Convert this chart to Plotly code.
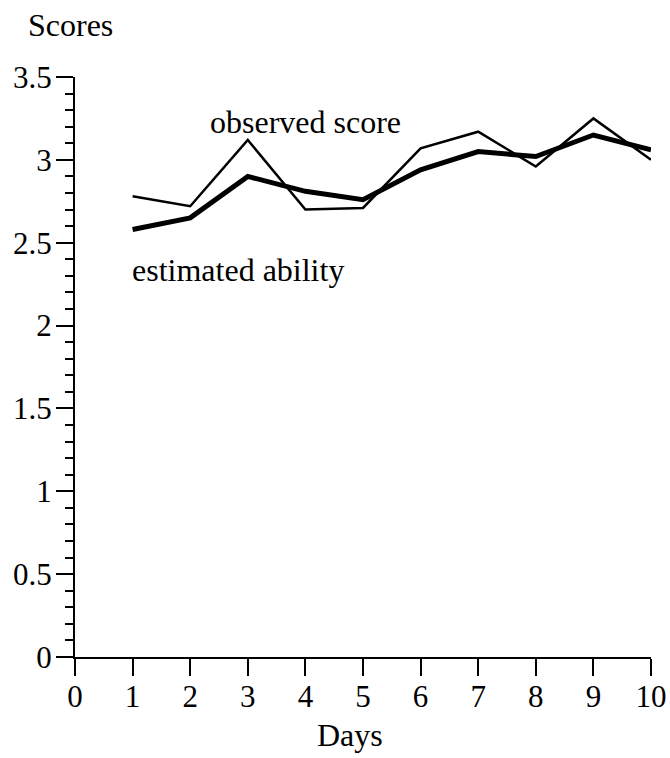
import plotly.graph_objects as go

days = [1, 2, 3, 4, 5, 6, 7, 8, 9, 10]
observed_score = [2.78, 2.72, 3.12, 2.70, 2.71, 3.07, 3.17, 2.96, 3.25, 3.00]
estimated_ability = [2.58, 2.65, 2.90, 2.81, 2.76, 2.94, 3.05, 3.02, 3.15, 3.06]

x_ticks = list(range(0, 11))
y_ticks = [0, 0.5, 1, 1.5, 2, 2.5, 3, 3.5]
y_tick_labels = ["0", "0.5", "1", "1.5", "2", "2.5", "3", "3.5"]

FONT = "Liberation Serif"
FS = 31
FS_T = 32

fig = go.Figure()
fig.add_trace(go.Scatter(x=days, y=observed_score, mode="lines",
                         line=dict(color="black", width=2.5), name="observed score"))
fig.add_trace(go.Scatter(x=days, y=estimated_ability, mode="lines",
                         line=dict(color="black", width=5), name="estimated ability"))

fig.update_layout(
    width=670, height=758,
    margin=dict(l=75, r=19, t=77, b=101, autoexpand=False),
    paper_bgcolor="white", plot_bgcolor="white",
    showlegend=False,
    font=dict(family=FONT, size=FS, color="black"),
    xaxis=dict(range=[0, 10], tickvals=x_ticks, ticktext=[str(v) for v in x_ticks],
               automargin=False,
               showgrid=False, zeroline=False, showline=True, linecolor="black", linewidth=2,
               ticks="outside", ticklen=17, tickwidth=2, tickcolor="black",
               ticklabelstandoff=-6,
               tickfont=dict(family=FONT, size=FS)),
    yaxis=dict(range=[0, 3.5], tickvals=y_ticks, ticktext=y_tick_labels,
               automargin=False,
               showgrid=False, zeroline=False, showline=True, linecolor="black", linewidth=2,
               ticks="outside", ticklen=17, tickwidth=2, tickcolor="black",
               ticklabelstandoff=-2,
               tickfont=dict(family=FONT, size=FS),
               minor=dict(dtick=0.1, ticks="outside", ticklen=8, tickwidth=2, tickcolor="black",
                          showgrid=False)),
    annotations=[
        dict(text="Scores", xref="paper", yref="paper", x=-0.085, y=1.0897,
             xanchor="left", yanchor="middle", showarrow=False, font=dict(family=FONT, size=FS_T)),
        dict(text="Days", xref="paper", yref="paper", x=0.478, y=-0.134,
             xanchor="center", yanchor="middle", showarrow=False, font=dict(family=FONT, size=FS_T)),
        dict(text="observed score", xref="x", yref="y", x=2.31, y=3.23,
             xanchor="left", yanchor="middle", showarrow=False, font=dict(family=FONT, size=FS_T)),
        dict(text="estimated ability", xref="x", yref="y", x=0.955, y=2.335,
             xanchor="left", yanchor="middle", showarrow=False, font=dict(family=FONT, size=FS_T)),
    ],
)

fig.write_html("out.html", config={"displayModeBar": False},
               post_script="document.body.style.margin='0';document.body.style.overflow='hidden';")
